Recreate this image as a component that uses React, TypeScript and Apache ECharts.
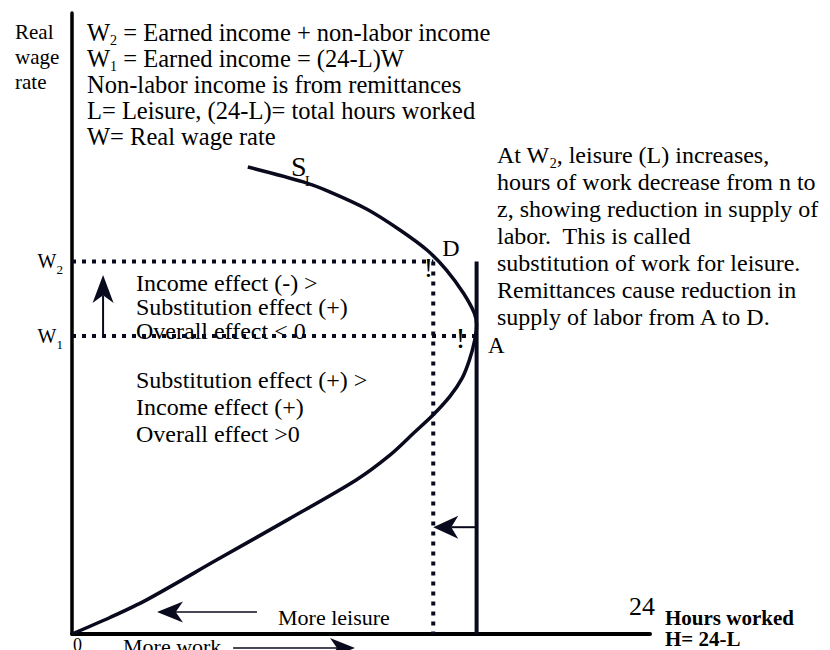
import React, { useEffect, useRef } from "react";
import * as echarts from "echarts";

// ---- data (hours worked on x: 0..24, real wage rate on y: arbitrary 0..100 units) ----
const hoursMax = 24;
const wageMax = 100;
const W1 = 48; // earned-income wage level
const W2 = 60; // earned + non-labor wage level
const hoursD = 15.0; // hours at D
const hoursA = 16.8; // hours at A

// backward-bending labour supply curve S_L
const curveHours = [0, 1.6, 3.1, 6.0, 9.0, 11.8, 13.2, 14.2, 15.0, 15.7, 16.2, 16.5, 16.72, 16.8, 16.7, 16.25, 15.55, 14.75, 13.6, 12.25, 10.7, 9.6, 7.3];
const curveWage = [0, 2.7, 5.5, 11.9, 18.5, 24.8, 28.8, 32.4, 35.3, 38.3, 41.2, 44.1, 47.3, 49.8, 51.7, 54.9, 58.6, 61.8, 65.1, 68.4, 71.2, 72.8, 75.2];

// arrows: [fromHours, fromWage, toHours, toWage]
const arrowUp = [1.29, W1, 1.29, 57.8];
const arrowBack = [hoursA, 17.2, hoursD, 17.2];
const arrowLeisure = [7.68, 3.54, 3.53, 3.54];
const arrowWork = [6.69, -2.25, 11.75, -2.25];

const yTitle = ["Real", "wage", "rate"];
const notesLeft = [
  "W{s|2} = Earned income + non-labor income",
  "W{s|1} = Earned income = (24-L)W",
  "Non-labor income is from remittances",
  "L= Leisure, (24-L)= total hours worked",
  "W= Real wage rate",
];
const notesRight = [
  "At W{s|2}, leisure (L) increases,",
  "hours of work decrease from n to",
  "z, showing reduction in supply of",
  "labor.  This is called",
  "substitution of work for leisure.",
  "Remittances cause reduction in",
  "supply of labor from A to D.",
];
const effectsAbove = ["Income effect (-) >", "Substitution effect (+)", "Overall effect < 0"];
const effectsBelow = ["Substitution effect (+) >", "Income effect (+)", "Overall effect >0"];

const C = "#0a0a1e";
const FONT = '"Liberation Serif", "Times New Roman", serif';

const subRich = {
  s: { fontSize: 14, fontFamily: FONT, fill: "#000", lineHeight: 10, padding: [12, 0, 0, 0], verticalAlign: "top" },
};

function label(text: string, x: number, y: number, size: number, opts: any = {}) {
  return {
    type: "text",
    x,
    y,
    silent: true,
    style: {
      text,
      fontSize: size,
      fontFamily: FONT,
      fontWeight: opts.bold ? "bold" : "normal",
      fill: "#000",
      align: opts.align || "left",
      verticalAlign: "middle",
      lineHeight: opts.lineHeight,
      rich: opts.rich,
    },
  };
}

function arrow(chart: any, a: number[], headLen: number, headHalf: number, width: number) {
  const p0 = chart.convertToPixel({ gridIndex: 0 }, [a[0], a[1]]);
  const p1 = chart.convertToPixel({ gridIndex: 0 }, [a[2], a[3]]);
  const dx = p1[0] - p0[0];
  const dy = p1[1] - p0[1];
  const len = Math.hypot(dx, dy);
  const ux = dx / len;
  const uy = dy / len;
  const px = -uy;
  const py = ux;
  const bx = p1[0] - ux * headLen;
  const by = p1[1] - uy * headLen;
  const nx = p1[0] - ux * headLen * 0.72;
  const ny = p1[1] - uy * headLen * 0.72;
  return [
    { type: "line", silent: true, shape: { x1: p0[0], y1: p0[1], x2: nx, y2: ny }, style: { stroke: C, lineWidth: width } },
    {
      type: "polygon",
      silent: true,
      shape: {
        points: [
          [p1[0], p1[1]],
          [bx + px * headHalf, by + py * headHalf],
          [nx, ny],
          [bx - px * headHalf, by - py * headHalf],
        ],
      },
      style: { fill: C },
    },
  ];
}

export default function App() {
  const ref = useRef<HTMLDivElement>(null);
  useEffect(() => {
    document.body.style.margin = "0";
    const chart = echarts.init(ref.current!, null, { renderer: "svg" });
    const curve = curveHours.map((h, i) => [h, curveWage[i]]);
    const dotted = { color: C, width: 4, type: [4, 6] as any };
    chart.setOption({
      animation: false,
      backgroundColor: "#fff",
      grid: { left: 72, right: 180, top: 13, bottom: 16 },
      xAxis: {
        type: "value",
        min: 0,
        max: hoursMax,
        axisLine: { show: true, lineStyle: { color: "#000", width: 4 } },
        axisTick: { show: false },
        axisLabel: { show: false },
        splitLine: { show: false },
      },
      yAxis: {
        type: "value",
        min: 0,
        max: wageMax,
        axisLine: { show: true, lineStyle: { color: "#000", width: 3.5 } },
        axisTick: { show: false },
        splitLine: { show: false },
        axisLabel: {
          customValues: [W1, W2],
          margin: 9,
          formatter: (v: number) => (Math.abs(v - W1) < 0.01 ? "{w|W}{s|1}" : "{w|W}{s|2}"),
          rich: {
            w: { fontSize: 20, fontFamily: FONT, color: "#000", lineHeight: 20, padding: [0, 0, 13, 0], verticalAlign: "top" },
            s: { fontSize: 13, fontFamily: FONT, color: "#000", lineHeight: 13, padding: [12, 0, 0, 0], verticalAlign: "top" },
          },
        },
      },
      series: [
        { type: "line", data: curve, smooth: 0.3, symbol: "none", lineStyle: { color: C, width: 3.5 }, z: 3 },
        { type: "line", data: [[0, W2], [hoursD, W2]], symbol: "none", lineStyle: dotted },
        { type: "line", data: [[0, W1], [hoursA, W1]], symbol: "none", lineStyle: dotted },
        { type: "line", data: [[hoursD, W2], [hoursD, 0]], symbol: "none", lineStyle: dotted },
        { type: "line", data: [[hoursA, W2], [hoursA, 0]], symbol: "none", lineStyle: { color: C, width: 4 } },
      ],
    });

    const g: any[] = [];
    yTitle.forEach((t, i) => g.push(label(t, 15, 32 + i * 25, 21)));
    notesLeft.forEach((t, i) => g.push(label(t, 87, 32 + i * 26, 24.5, { rich: subRich, lineHeight: 22 })));
    notesRight.forEach((t, i) => g.push(label(t, 497, 155 + i * 27, 24, { rich: subRich, lineHeight: 22 })));
    effectsAbove.forEach((t, i) => g.push(label(t, 136, 283 + i * 24, 24, { lineHeight: 22 })));
    effectsBelow.forEach((t, i) => g.push(label(t, 136, 380 + i * 27, 24, { lineHeight: 22 })));
    g.push(label("S", 291, 166, 28));
    g.push(label("L", 305, 181, 14));
    g.push(label("D", 451, 248, 24, { align: "center" }));
    g.push(label("A", 488, 345, 23));
    g.push(label("!", 428.5, 267, 28, { align: "center" }));
    g.push(label("!", 460.5, 337, 30, { align: "center" }));
    g.push(label("24", 642, 606, 26, { align: "center" }));
    g.push(label("Hours worked", 665, 618, 21, { bold: true, lineHeight: 20 }));
    g.push(label("H= 24-L", 665, 639, 21, { bold: true, lineHeight: 20 }));
    g.push(label("0", 73, 645, 18));
    g.push(label("More work", 123, 646, 22));
    g.push(label("More leisure", 278, 617, 22));
    g.push(...arrow(chart, arrowUp, 28, 10.5, 2));
    g.push(...arrow(chart, arrowBack, 25, 11.5, 2));
    g.push(...arrow(chart, arrowLeisure, 26, 10.5, 1.5));
    g.push(...arrow(chart, arrowWork, 25, 10, 1.5));
    chart.setOption({ graphic: g });

    return () => chart.dispose();
  }, []);
  return <div ref={ref} style={{ position: "absolute", left: 0, top: 0, width: 830, height: 650, background: "#fff" }} />;
}
